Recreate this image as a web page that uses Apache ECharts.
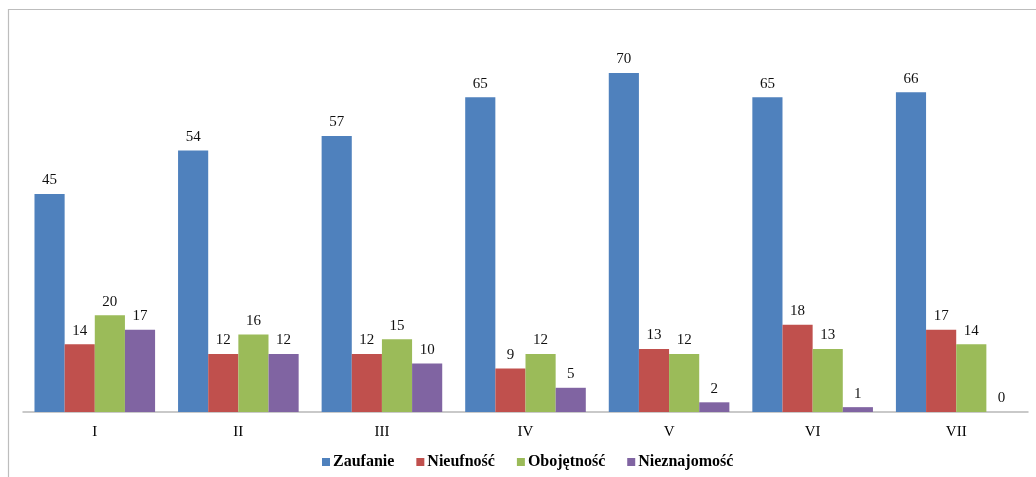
<!DOCTYPE html>
<html>
<head>
<meta charset="utf-8">
<script src="https://cdn.jsdelivr.net/npm/echarts@6/dist/echarts.min.js"></script>
<style>
  html, body { margin: 0; padding: 0; background: #fff; }
  #chart { width: 1036px; height: 477px; }
</style>
</head>
<body>
<div id="chart"></div>
<script>
// Categories and survey values per attitude
const categories = ['I', 'II', 'III', 'IV', 'V', 'VI', 'VII'];
const seriesNames = ['Zaufanie', 'Nieufność', 'Obojętność', 'Nieznajomość'];
const zaufanie = [45, 54, 57, 65, 70, 65, 66];
const nieufnosc = [14, 12, 12, 9, 13, 18, 17];
const obojetnosc = [20, 16, 15, 12, 12, 13, 14];
const nieznajomosc = [17, 12, 10, 5, 2, 1, 0];
const seriesData = [zaufanie, nieufnosc, obojetnosc, nieznajomosc];
const colors = ['#4F81BD', '#C0504D', '#9BBB59', '#8064A2'];

const serif = '"Liberation Serif", "DejaVu Serif", serif';

const chart = echarts.init(document.getElementById('chart'), null, { renderer: 'canvas' });

chart.setOption({
  animation: false,
  backgroundColor: '#fff',
  color: colors,
  grid: { left: 23, right: 8, top: 24.5, bottom: 65, containLabel: false },
  legend: {
    data: seriesNames,
    left: 317,
    top: 449,
    itemWidth: 8,
    itemHeight: 8,
    itemGap: 22,
    icon: 'rect',
    textStyle: { fontFamily: serif, fontSize: 16, fontWeight: 'bold', color: '#000', padding: [0, 0, 0, -2] }
  },
  xAxis: {
    type: 'category',
    data: categories,
    axisLine: { lineStyle: { color: '#b8b8b8', width: 1.5 } },
    axisTick: { show: false },
    axisLabel: { fontFamily: serif, fontSize: 15, color: '#000', margin: 13 }
  },
  yAxis: {
    type: 'value',
    min: 0,
    max: 80,
    show: false,
    splitLine: { show: false }
  },
  series: seriesNames.map((name, i) => ({
    name,
    type: 'bar',
    data: seriesData[i],
    barGap: '0%',
    barCategoryGap: '16%',
    label: {
      show: true,
      position: 'top',
      distance: 6,
      fontFamily: serif,
      fontSize: 15,
      color: '#111'
    }
  })),
  graphic: [
    {
      type: 'polyline',
      silent: true,
      shape: { points: [[8.5, 477], [8.5, 9.5], [1036, 9.5]] },
      style: { stroke: '#bdbdbd', lineWidth: 1.2, fill: null }
    }
  ]
});
</script>
</body>
</html>
